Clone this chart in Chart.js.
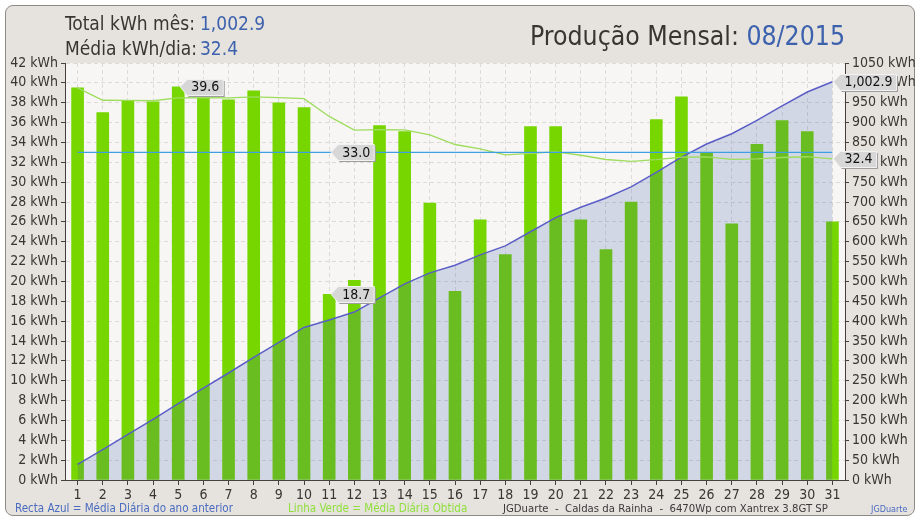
<!DOCTYPE html>
<html><head><meta charset="utf-8">
<script src="https://cdn.jsdelivr.net/npm/chart.js@4.4.1/dist/chart.umd.min.js"></script>
<style>
html,body{margin:0;padding:0;background:#fff;}
#wrap{position:relative;width:920px;height:520px;overflow:hidden;}
#panel{position:absolute;left:5px;top:5px;width:908px;height:509px;background:#e6e2de;border:1px solid #8e8a86;border-radius:8px;}
canvas{position:absolute;left:0;top:0;}
</style></head><body>
<div id="wrap"><div id="panel"></div><canvas id="c" width="920" height="520"></canvas></div>
<script>
// ---- data ----
const days = ['1','2','3','4','5','6','7','8','9','10','11','12','13','14','15','16','17','18','19','20','21','22','23','24','25','26','27','28','29','30','31'];
const dailyKWh = [39.5,37.0,38.2,38.1,39.6,38.7,38.3,39.2,38.0,37.5,18.7,20.1,35.7,35.1,27.9,19.0,26.2,22.7,35.6,35.6,26.2,23.2,28.0,36.3,38.6,33.0,25.8,33.8,36.2,35.1,26.0];
const cumulativeKWh = [39.5,76.5,114.7,152.8,192.4,231.1,269.4,308.6,346.6,384.1,402.8,422.9,458.6,493.7,521.6,540.6,566.8,589.5,625.1,660.7,686.9,710.1,738.1,774.4,813.0,846.0,871.8,905.6,941.8,976.9,1002.9];
const dailyAverage = [39.5,38.25,38.23,38.2,38.48,38.52,38.49,38.58,38.51,38.41,36.62,35.24,35.28,35.26,34.77,33.79,33.34,32.75,32.9,33.04,32.71,32.28,32.09,32.27,32.52,32.54,32.29,32.34,32.48,32.56,32.35];
const prevYearAverage = [33.0,33.0,33.0,33.0,33.0,33.0,33.0,33.0,33.0,33.0,33.0,33.0,33.0,33.0,33.0,33.0,33.0,33.0,33.0,33.0,33.0,33.0,33.0,33.0,33.0,33.0,33.0,33.0,33.0,33.0,33.0];
const leftAxisRange = [0, 42, 2];      // min, max, step (kWh/day)
const rightAxisRange = [0, 1050, 50];  // min, max, step (kWh cumulative)
const headerTotal = '1,002.9';
const headerAverage = '32.4';
const monthLabel = '08/2015';
const maxDayIndex = 4, minDayIndex = 10, prevTagIndex = 10, lastIndex = 30;

const COND = "'DejaVu Sans Condensed','DejaVu Sans',sans-serif";
const DARK = '#3a3530';
const BLUE = '#3d62ad';

function fitFont(ctx, text, size, target){
  ctx.font = size + 'px ' + COND;
  const w = ctx.measureText(text).width;
  const s = size * target / w;
  ctx.font = s.toFixed(2) + 'px ' + COND;
}

function tag(ctx, x, y, text){
  ctx.save();
  ctx.font = '14px ' + COND;
  const tw = ctx.measureText(text).width;
  const a = 7, h = 16, w = tw + 8;
  const bx = x + a, top = Math.round(y - h/2) + 0.5, bot = top + h;
  const path = (dx, dy) => {
    ctx.beginPath();
    ctx.moveTo(x + dx, y + dy);
    ctx.lineTo(bx + dx, top + dy);
    ctx.lineTo(bx + w + dx, top + dy);
    ctx.lineTo(bx + w + dx, bot + dy);
    ctx.lineTo(bx + dx, bot + dy);
    ctx.closePath();
  };
  ctx.fillStyle = '#9d9d9d'; path(1.5, 1.5); ctx.fill();
  ctx.fillStyle = '#d7d7d7'; path(0, 0); ctx.fill();
  ctx.strokeStyle = '#f2f2f2'; ctx.lineWidth = 1; path(0,0); ctx.stroke();
  ctx.fillStyle = '#111';
  ctx.textBaseline = 'middle';
  ctx.textAlign = 'left';
  ctx.fillText(text, bx + 4, y + 1);
  ctx.restore();
}

const decor = {
  id: 'decor',
  beforeDraw(chart){
    const {ctx, chartArea: a} = chart;
    ctx.save();
    ctx.fillStyle = '#f7f6f4';
    ctx.fillRect(a.left, a.top, a.right - a.left, a.bottom - a.top);
    ctx.restore();
  },
  afterDraw(chart){
    const {ctx, scales} = chart;
    const x = scales.x, y = scales.y, y1 = scales.y1;
    // tags
    tag(ctx, x.getPixelForValue(maxDayIndex) + 2, y.getPixelForValue(dailyKWh[maxDayIndex]), dailyKWh[maxDayIndex].toFixed(1));
    tag(ctx, x.getPixelForValue(minDayIndex) + 2, y.getPixelForValue(dailyKWh[minDayIndex]), dailyKWh[minDayIndex].toFixed(1));
    tag(ctx, x.getPixelForValue(prevTagIndex) + 2, y.getPixelForValue(prevYearAverage[prevTagIndex]), prevYearAverage[prevTagIndex].toFixed(1));
    tag(ctx, x.getPixelForValue(lastIndex) + 1, y1.getPixelForValue(cumulativeKWh[lastIndex]), headerTotal);
    tag(ctx, x.getPixelForValue(lastIndex) + 1, y.getPixelForValue(dailyAverage[lastIndex]), headerAverage);

    ctx.save();
    ctx.textBaseline = 'alphabetic';
    ctx.textAlign = 'left';
    // header
    fitFont(ctx, 'Total kWh mês:', 18.5, 130);
    ctx.fillStyle = DARK; ctx.fillText('Total kWh mês:', 65, 30);
    ctx.fillText('Média kWh/dia:', 65, 55);
    ctx.fillStyle = BLUE;
    ctx.fillText(headerTotal, 200, 30);
    ctx.fillText(headerAverage, 200, 55);
    // title
    const t1 = 'Produção Mensal: ';
    fitFont(ctx, t1 + monthLabel, 26, 315);
    ctx.fillStyle = DARK; ctx.fillText(t1, 530, 45);
    const w1 = ctx.measureText(t1).width;
    ctx.fillStyle = BLUE; ctx.fillText(monthLabel, 530 + w1, 45);
    // footer
    const f1 = 'Recta Azul = Média Diária do ano anterior';
    fitFont(ctx, f1, 11.5, 218);
    ctx.fillStyle = '#4a6cc0'; ctx.fillText(f1, 15, 512);
    ctx.fillStyle = '#8fe03c'; ctx.fillText('Linha Verde = Média Diária Obtida', 288, 512);
    const f3 = 'JGDuarte  -  Caldas da Rainha  -  6470Wp com Xantrex 3.8GT SP';
    fitFont(ctx, f3, 11.5, 325);
    ctx.fillStyle = '#3a3a3a'; ctx.fillText(f3, 503, 512);
    ctx.font = '9px ' + COND;
    ctx.fillStyle = '#4a6cc0'; ctx.fillText('JGDuarte', 871, 512);
    ctx.restore();
  }
};

const tickFont = {family: COND, size: 14};
const gridColor = '#dddbd8';
const axisColor = '#45403c';

new Chart(document.getElementById('c'), {
  type: 'bar',
  data: {
    labels: days,
    datasets: [
      { type: 'line', label: 'Recta Azul', data: prevYearAverage, yAxisID: 'y',
        borderColor: '#3f9fe4', borderWidth: 1.2, pointRadius: 0, fill: false, order: 0 },
      { type: 'line', label: 'Linha Verde', data: dailyAverage, yAxisID: 'y',
        borderColor: '#9edc5c', borderWidth: 1.3, pointRadius: 0, fill: false, order: 1 },
      { type: 'line', label: 'Acumulado', data: cumulativeKWh, yAxisID: 'y1',
        borderColor: '#5a5ec6', borderWidth: 1.5, pointRadius: 0, tension: 0,
        fill: 'origin', backgroundColor: 'rgba(55,86,169,0.19)', order: 2 },
      { type: 'bar', label: 'kWh', data: dailyKWh, yAxisID: 'y',
        backgroundColor: '#77d600', borderWidth: 0, barThickness: 12, order: 3 }
    ]
  },
  options: {
    responsive: false,
    animation: false,
    events: [],
    layout: { padding: { left: 0, right: 0, top: 63, bottom: 16 } },
    plugins: { legend: { display: false }, tooltip: { enabled: false } },
    scales: {
      x: {
        offset: true,
        grid: { offset: false, color: gridColor, tickColor: axisColor, tickLength: 5, tickBorderDash: [] },
        border: { display: true, color: axisColor, dash: [4, 3] },
        ticks: { font: tickFont, color: DARK, padding: 2, maxRotation: 0, autoSkip: false },
        afterFit: s => { s.height = 24; }
      },
      y: {
        position: 'left', min: leftAxisRange[0], max: leftAxisRange[1],
        ticks: { stepSize: leftAxisRange[2], font: tickFont, color: DARK, padding: 3, callback: v => v + ' kWh' },
        grid: { color: gridColor, tickColor: axisColor, tickLength: 4, tickBorderDash: [] },
        border: { display: true, color: axisColor, dash: [4, 3] },
        afterFit: s => { s.width = 65; }
      },
      y1: {
        position: 'right', min: rightAxisRange[0], max: rightAxisRange[1],
        ticks: { stepSize: rightAxisRange[2], font: tickFont, color: DARK, padding: 3, callback: v => v + ' kWh' },
        grid: { drawOnChartArea: false, color: axisColor, tickColor: axisColor, tickLength: 4 },
        border: { display: true, color: axisColor },
        afterFit: s => { s.width = 75; }
      }
    }
  },
  plugins: [decor]
});
</script>
</body></html>
